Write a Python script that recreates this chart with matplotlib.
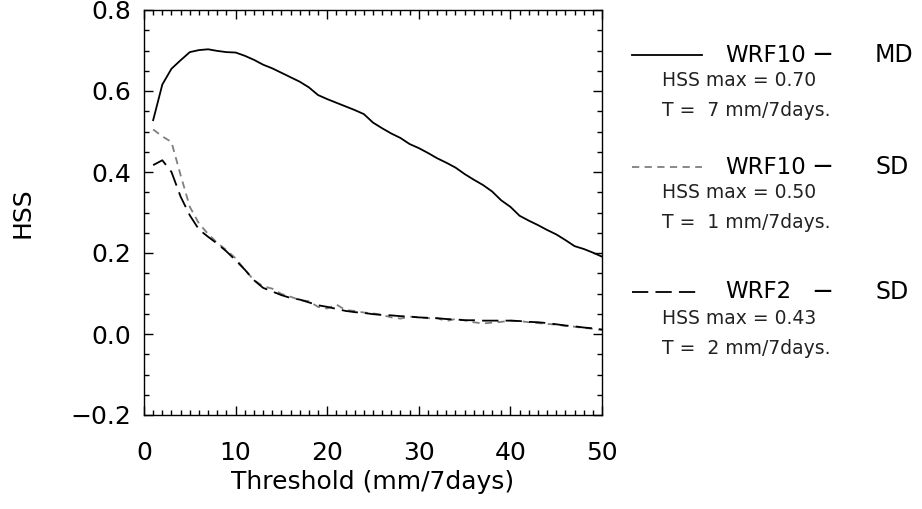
import numpy as np
import matplotlib
matplotlib.use('Agg')
import matplotlib.pyplot as plt
from matplotlib.lines import Line2D
from matplotlib.ticker import MultipleLocator

# threshold (mm/7days)
threshold = list(range(1, 51))

hss_wrf10_md = [0.528, 0.616, 0.655, 0.676, 0.696, 0.701, 0.703, 0.699, 0.696, 0.695,
                0.687, 0.677, 0.665, 0.656, 0.645, 0.634, 0.623, 0.609, 0.590, 0.580,
                0.571, 0.562, 0.553, 0.543, 0.522, 0.508, 0.495, 0.484, 0.469, 0.459,
                0.447, 0.434, 0.423, 0.411, 0.395, 0.381, 0.368, 0.352, 0.330, 0.314,
                0.292, 0.280, 0.269, 0.257, 0.246, 0.232, 0.217, 0.210, 0.201, 0.191]

hss_wrf10_sd = [0.505, 0.488, 0.474, 0.392, 0.314, 0.273, 0.247, 0.225, 0.207, 0.187,
                0.159, 0.133, 0.118, 0.112, 0.099, 0.092, 0.084, 0.081, 0.067, 0.063,
                0.073, 0.059, 0.057, 0.053, 0.051, 0.047, 0.041, 0.038, 0.043, 0.041,
                0.039, 0.039, 0.032, 0.037, 0.034, 0.029, 0.026, 0.028, 0.030, 0.033,
                0.032, 0.029, 0.027, 0.025, 0.023, 0.020, 0.018, 0.015, 0.013, 0.010]

hss_wrf2_sd = [0.417, 0.429, 0.400, 0.339, 0.293, 0.258, 0.240, 0.223, 0.204, 0.182,
               0.159, 0.133, 0.114, 0.105, 0.096, 0.089, 0.085, 0.078, 0.071, 0.067,
               0.062, 0.057, 0.054, 0.052, 0.049, 0.047, 0.046, 0.044, 0.043, 0.041,
               0.040, 0.039, 0.037, 0.036, 0.034, 0.034, 0.033, 0.033, 0.033, 0.033,
               0.032, 0.030, 0.029, 0.027, 0.024, 0.021, 0.019, 0.016, 0.014, 0.011]

names = ['WRF10', 'WRF10', 'WRF2']
kinds = ['MD', 'SD', 'SD']
hss_max = ['0.70', '0.50', '0.43']
t_max = ['7', '1', '2']

GRAY = '#7f7f7f'
styles = [dict(color='black', linestyle='-'),
          dict(color=GRAY, linestyle=(0, (4, 3))),
          dict(color='black', linestyle=(0, (9, 4)))]

plt.rcParams['font.family'] = 'DejaVu Sans'

fig = plt.figure(figsize=(9.22, 5.09), dpi=100)
ax = fig.add_axes([144 / 922, 1 - 415 / 509, 458 / 922, 405 / 509])

for series, st in zip([hss_wrf10_md, hss_wrf10_sd, hss_wrf2_sd], styles):
    ax.plot(threshold, series, linewidth=1.3, **st)

ax.set_xlim(0, 50)
ax.set_ylim(-0.2, 0.8)
ax.xaxis.set_major_locator(MultipleLocator(10))
ax.xaxis.set_minor_locator(MultipleLocator(1))
ax.yaxis.set_major_locator(MultipleLocator(0.2))
ax.yaxis.set_minor_locator(MultipleLocator(0.05))
ax.yaxis.set_major_formatter(plt.FuncFormatter(lambda v, p: ('%.1f' % v).replace('-', '\u2212')))

ax.tick_params(which='both', direction='in', top=True, right=True, width=1.0)
ax.tick_params(which='major', length=6.5, labelsize=18)
ax.tick_params(which='minor', length=3.5)
ax.tick_params(axis='x', which='major', pad=19)
ax.tick_params(axis='y', which='major', pad=9)
for sp in ax.spines.values():
    sp.set_linewidth(1.0)

ax.set_xlabel('Threshold (mm/7days)', fontsize=18)
ax.xaxis.set_label_coords(0.5, -0.135)
ax.set_ylabel('HSS', fontsize=18)
ax.yaxis.set_label_coords(-0.24, 0.5)

# legend block on the right
head_y = [55, 167, 292]
for i in range(3):
    y0 = head_y[i]
    fy = 1 - y0 / 509
    fig.add_artist(Line2D([632 / 922, 702 / 922], [fy, fy], transform=fig.transFigure,
                          linewidth=1.3, **styles[i]))
    fig.text(725 / 922, fy, names[i], fontsize=16.5, va='center', ha='left')
    fig.text(822 / 922, fy, '\u2212', fontsize=19, va='center', ha='center')
    fig.text(875 / 922, fy, kinds[i], fontsize=17, va='center', ha='left')
    fig.text(662 / 922, 1 - (y0 + 26) / 509, 'HSS max = ' + hss_max[i],
             fontsize=13.5, va='center', ha='left', color='#222222')
    fig.text(662 / 922, 1 - (y0 + 56) / 509, 'T =  ' + t_max[i] + ' mm/7days.',
             fontsize=13.5, va='center', ha='left', color='#222222')

fig.savefig('out.png', dpi=100)
